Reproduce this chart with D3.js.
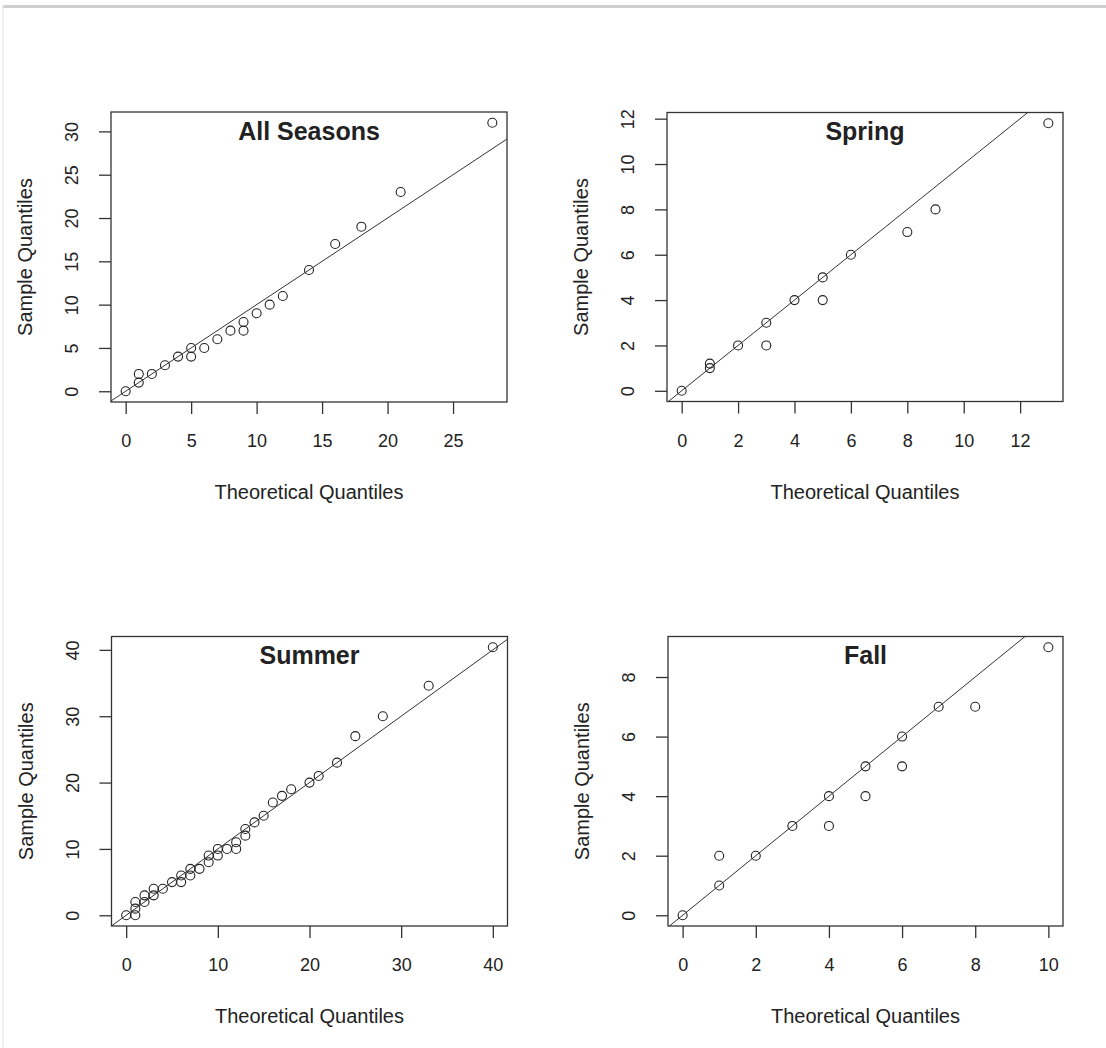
<!DOCTYPE html>
<html>
<head>
<meta charset="utf-8">
<script src="https://cdn.jsdelivr.net/npm/d3@7"></script>
<style>
  html, body { margin: 0; padding: 0; background: #fff; }
  svg { display: block; }
  text { font-family: "Liberation Sans", Arial, sans-serif; fill: #222; }
</style>
</head>
<body>
<svg id="chart" width="1106" height="1048"></svg>
<script>
// Panel titles
const panelTitles = ["All Seasons", "Spring", "Summer", "Fall"];

// Q-Q pairs: theoretical quantiles vs. sample quantiles
const allSeasonsTheoretical = [0, 1, 1, 2, 3, 4, 5, 5, 6, 7, 8, 9, 9, 10, 11, 12, 14, 16, 18, 21, 28];
const allSeasonsSample      = [0, 1, 2, 2, 3, 4, 4, 5, 5, 6, 7, 7, 8, 9, 10, 11, 14, 17, 19, 23, 31];

const springTheoretical = [0, 1, 1, 2, 3, 3, 4, 5, 5, 6, 8, 9, 13];
const springSample      = [0, 1, 1.2, 2, 2, 3, 4, 4, 5, 6, 7, 8, 11.8];

const summerTheoretical = [0, 1, 1, 1, 2, 2, 3, 3, 4, 5, 6, 6, 7, 7, 8, 9, 9, 10, 10, 11, 12, 12,
                           13, 13, 14, 15, 16, 17, 18, 20, 21, 23, 25, 28, 33, 40];
const summerSample      = [0, 0, 1, 2, 2, 3, 3, 4, 4, 5, 5, 6, 6, 7, 7, 8, 9, 9, 10, 10, 10, 11,
                           12, 13, 14, 15, 17, 18, 19, 20, 21, 23, 27, 30, 34.6, 40.4];

const fallTheoretical = [0, 1, 1, 2, 3, 4, 4, 5, 5, 6, 6, 7, 8, 10];
const fallSample      = [0, 1, 2, 2, 3, 3, 4, 4, 5, 5, 6, 7, 7, 9];

// Tick labels per panel
const allSeasonsXTicks = [0, 5, 10, 15, 20, 25];
const allSeasonsYTicks = [0, 5, 10, 15, 20, 25, 30];
const springXTicks = [0, 2, 4, 6, 8, 10, 12];
const springYTicks = [0, 2, 4, 6, 8, 10, 12];
const summerXTicks = [0, 10, 20, 30, 40];
const summerYTicks = [0, 10, 20, 30, 40];
const fallXTicks = [0, 2, 4, 6, 8, 10];
const fallYTicks = [0, 2, 4, 6, 8];

// Reference line y = intercept + slope * x
const refIntercept = [0, 0, 0, 0];
const refSlope     = [1, 1, 1, 1];

const xLabel = "Theoretical Quantiles";
const yLabel = "Sample Quantiles";

const panels = [
  { title: panelTitles[0], tx: allSeasonsTheoretical, sy: allSeasonsSample, xt: allSeasonsXTicks, yt: allSeasonsYTicks,
    box: { x0: 111, x1: 507, y0: 112, y1: 402 } },
  { title: panelTitles[1], tx: springTheoretical, sy: springSample, xt: springXTicks, yt: springYTicks,
    box: { x0: 667, x1: 1063, y0: 112.5, y1: 401.5 } },
  { title: panelTitles[2], tx: summerTheoretical, sy: summerSample, xt: summerXTicks, yt: summerYTicks,
    box: { x0: 111.5, x1: 507.5, y0: 636.5, y1: 926 } },
  { title: panelTitles[3], tx: fallTheoretical, sy: fallSample, xt: fallXTicks, yt: fallYTicks,
    box: { x0: 668, x1: 1063, y0: 636.5, y1: 926 } }
];

const svg = d3.select("#chart");

// page frame: grey rule along the top and faint left edge
svg.append("rect").attr("x", 3).attr("y", 5).attr("width", 1103).attr("height", 3).attr("fill", "#cfcfcf");
svg.append("rect").attr("x", 2).attr("y", 5).attr("width", 1.5).attr("height", 1043).attr("fill", "#ececec");

// R-style axis range: data extent padded by 4% on each side
function padded(values) {
  const [lo, hi] = d3.extent(values);
  const p = (hi - lo) * 0.04;
  return [lo - p, hi + p];
}

const tickFont = "18px";

panels.forEach((pn, i) => {
  const b = pn.box;
  const x = d3.scaleLinear().domain(padded(pn.tx)).range([b.x0, b.x1]);
  const y = d3.scaleLinear().domain(padded(pn.sy)).range([b.y1, b.y0]);
  const g = svg.append("g");

  const clipId = "clip" + i;
  svg.append("clipPath").attr("id", clipId)
    .append("rect").attr("x", b.x0).attr("y", b.y0)
    .attr("width", b.x1 - b.x0).attr("height", b.y1 - b.y0);

  // reference line
  const [dx0, dx1] = x.domain();
  g.append("line")
    .attr("clip-path", `url(#${clipId})`)
    .attr("x1", x(dx0)).attr("y1", y(refIntercept[i] + refSlope[i] * dx0))
    .attr("x2", x(dx1)).attr("y2", y(refIntercept[i] + refSlope[i] * dx1))
    .attr("stroke", "#333").attr("stroke-width", 1);

  // points
  g.selectAll("circle.pt").data(pn.tx.map((t, k) => [t, pn.sy[k]]))
    .join("circle").attr("class", "pt")
    .attr("cx", d => x(d[0])).attr("cy", d => y(d[1])).attr("r", 4.5)
    .attr("fill", "none").attr("stroke", "#222").attr("stroke-width", 1.1);

  // box
  g.append("rect")
    .attr("x", b.x0).attr("y", b.y0).attr("width", b.x1 - b.x0).attr("height", b.y1 - b.y0)
    .attr("fill", "none").attr("stroke", "#333").attr("stroke-width", 1.3);

  // bottom axis
  const ax = g.append("g").attr("transform", `translate(0,${b.y1})`)
    .call(d3.axisBottom(x).tickValues(pn.xt).tickSize(12).tickFormat(d3.format("d")));
  ax.select(".domain").remove();
  ax.selectAll(".tick line").attr("stroke", "#333").attr("stroke-width", 1.3);
  ax.selectAll(".tick text").attr("y", 39).attr("dy", "0.35em")
    .style("font-size", tickFont).style("font-family", "'Liberation Sans', Arial, sans-serif").attr("fill", "#222");

  // left axis with labels parallel to the axis
  const ay = g.append("g").attr("transform", `translate(${b.x0},0)`)
    .call(d3.axisLeft(y).tickValues(pn.yt).tickSize(12).tickFormat(d3.format("d")));
  ay.select(".domain").remove();
  ay.selectAll(".tick line").attr("stroke", "#333").attr("stroke-width", 1.3);
  ay.selectAll(".tick text").attr("x", null).attr("dy", "0.35em")
    .attr("text-anchor", "middle").attr("transform", "translate(-39,0) rotate(-90)")
    .style("font-size", tickFont).style("font-family", "'Liberation Sans', Arial, sans-serif").attr("fill", "#222");

  const cx = (b.x0 + b.x1) / 2;
  const cy = (b.y0 + b.y1) / 2;

  // title
  g.append("text").attr("x", cx).attr("y", b.y0 + 19).attr("dy", "0.35em")
    .attr("text-anchor", "middle").style("font-size", "25px").style("font-weight", "bold")
    .text(pn.title);

  // axis titles
  g.append("text").attr("x", cx).attr("y", b.y1 + 90).attr("dy", "0.35em")
    .attr("text-anchor", "middle").style("font-size", "20px").text(xLabel);
  g.append("text").attr("transform", `translate(${b.x0 - 86},${cy}) rotate(-90)`).attr("dy", "0.35em")
    .attr("text-anchor", "middle").style("font-size", "20px").text(yLabel);
});
</script>
</body>
</html>
